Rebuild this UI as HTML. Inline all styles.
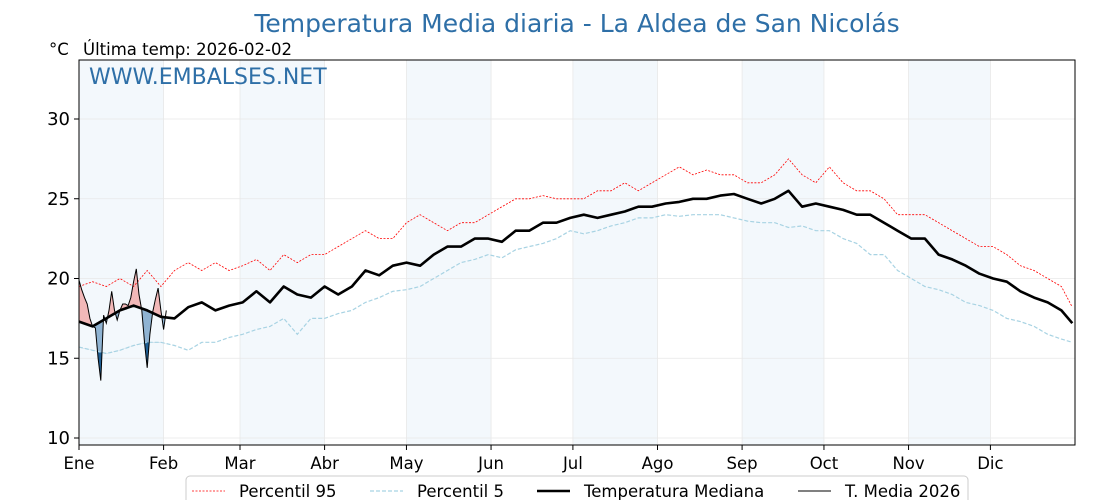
<!DOCTYPE html>
<html><head><meta charset="utf-8"><style>
body{margin:0;background:#fff;font-family:"DejaVu Sans","Liberation Sans",sans-serif}
svg{display:block}
</style></head><body>
<svg id="c" width="1120" height="500" xmlns="http://www.w3.org/2000/svg" font-family="DejaVu Sans, Liberation Sans, sans-serif">
<text x="577" y="32" text-anchor="middle" font-size="25" fill="#2e6fa7">Temperatura Media diaria - La Aldea de San Nicolás</text>
<text x="49" y="55" font-size="16.5" fill="#000">°C</text>
<text x="83" y="55" font-size="16.5" fill="#000">Última temp: 2026-02-02</text>
<g id="bands"></g>
<g id="grid"></g>
<g id="fills"></g>
<g id="lines"></g>
<text x="89" y="84" font-size="22" fill="#2e6fa7">WWW.EMBALSES.NET</text>
<rect x="79" y="60" width="996" height="385" fill="none" stroke="#000" stroke-width="1"/>
<g id="axes"></g>
<g>
<rect x="186" y="476" width="782" height="30" rx="4" fill="#fff" stroke="#ccc"/>
<line x1="192" y1="491" x2="225" y2="491" stroke="red" stroke-width="0.8" stroke-dasharray="2,1.5"/>
<text x="239" y="497" font-size="16.5">Percentil 95</text>
<line x1="370" y1="491" x2="403" y2="491" stroke="#a8d3e3" stroke-width="1.2" stroke-dasharray="4,2"/>
<text x="417" y="497" font-size="16.5">Percentil 5</text>
<line x1="537" y1="491" x2="570" y2="491" stroke="#000" stroke-width="2.6"/>
<text x="584" y="497" font-size="16.5">Temperatura Mediana</text>
<line x1="798" y1="491" x2="831" y2="491" stroke="#000" stroke-width="1"/>
<text x="845" y="497" font-size="16.5">T. Media 2026</text>
</g>
</svg>
<script>
const sampleDays=[0,5,10,15,20,25,30,35,40,45,50,55,60,65,70,75,80,85,90,95,100,105,110,115,120,125,130,135,140,145,150,155,160,165,170,175,180,185,190,195,200,205,210,215,220,225,230,235,240,245,250,255,260,265,270,275,280,285,290,295,300,305,310,315,320,325,330,335,340,345,350,355,360,364];
const median=[17.3,17.0,17.5,18.0,18.3,18.0,17.6,17.5,18.2,18.5,18.0,18.3,18.5,19.2,18.5,19.5,19.0,18.8,19.5,19.0,19.5,20.5,20.2,20.8,21.0,20.8,21.5,22.0,22.0,22.5,22.5,22.3,23.0,23.0,23.5,23.5,23.8,24.0,23.8,24.0,24.2,24.5,24.5,24.7,24.8,25.0,25.0,25.2,25.3,25.0,24.7,25.0,25.5,24.5,24.7,24.5,24.3,24.0,24.0,23.5,23.0,22.5,22.5,21.5,21.2,20.8,20.3,20.0,19.8,19.2,18.8,18.5,18.0,17.2];
const p95=[19.5,19.8,19.5,20.0,19.5,20.5,19.5,20.5,21.0,20.5,21.0,20.5,20.8,21.2,20.5,21.5,21.0,21.5,21.5,22.0,22.5,23.0,22.5,22.5,23.5,24.0,23.5,23.0,23.5,23.5,24.0,24.5,25.0,25.0,25.2,25.0,25.0,25.0,25.5,25.5,26.0,25.5,26.0,26.5,27.0,26.5,26.8,26.5,26.5,26.0,26.0,26.5,27.5,26.5,26.0,27.0,26.0,25.5,25.5,25.0,24.0,24.0,24.0,23.5,23.0,22.5,22.0,22.0,21.5,20.8,20.5,20.0,19.5,18.2];
const p5=[15.7,15.5,15.3,15.5,15.8,16.0,16.0,15.8,15.5,16.0,16.0,16.3,16.5,16.8,17.0,17.5,16.5,17.5,17.5,17.8,18.0,18.5,18.8,19.2,19.3,19.5,20.0,20.5,21.0,21.2,21.5,21.3,21.8,22.0,22.2,22.5,23.0,22.8,23.0,23.3,23.5,23.8,23.8,24.0,23.9,24.0,24.0,24.0,23.8,23.6,23.5,23.5,23.2,23.3,23.0,23.0,22.5,22.2,21.5,21.5,20.5,20.0,19.5,19.3,19.0,18.5,18.3,18.0,17.5,17.3,17.0,16.5,16.2,16.0];
const t2026=[19.9,19.3,18.8,18.4,17.5,17.0,16.9,15.0,13.6,17.7,17.2,18.0,19.2,18.0,17.4,18.0,18.4,18.4,18.3,18.8,19.8,20.6,19.0,18.0,16.0,14.4,16.5,17.9,18.7,19.4,18.0,16.8,18.0];
const monthLabels=["Ene","Feb","Mar","Abr","May","Jun","Jul","Ago","Sep","Oct","Nov","Dic"];
const monthStarts=[0,31,59,90,120,151,181,212,243,273,304,334];
const yTicks=[10,15,20,25,30];

const NS="http://www.w3.org/2000/svg";
const X0=79,PXD=996/365;
const x=d=>X0+d*PXD;
const y=v=>438-(v-10)*15.95;
function el(tag,attrs,parent){const e=document.createElementNS(NS,tag);for(const k in attrs)e.setAttribute(k,attrs[k]);document.getElementById(parent).appendChild(e);return e;}
function interp(arr,d){for(let i=0;i<sampleDays.length-1;i++){if(d<=sampleDays[i+1]){const f=(d-sampleDays[i])/(sampleDays[i+1]-sampleDays[i]);return arr[i]+f*(arr[i+1]-arr[i]);}}return arr[arr.length-1];}
for(let i=0;i<12;i+=2){const s=monthStarts[i],e=i+1<12?monthStarts[i+1]:365;
const r=el('rect',{x:x(s),y:60,width:x(e)-x(s),height:385,fill:'#f3f8fc'},'bands');

}
yTicks.forEach(v=>{const l=el('line',{x1:79,x2:1075,y1:y(v),y2:y(v),stroke:'#e8e8e8','stroke-width':0.8},'grid');


const tk=el('line',{x1:74,x2:79,y1:y(v),y2:y(v),stroke:'#000'},'axes');


const t=el('text',{x:70,y:y(v)+6,'text-anchor':'end','font-size':18},'axes');t.textContent=v;

});
monthStarts.forEach((s,i)=>{const g=el('line',{x1:x(s),x2:x(s),y1:60,y2:445,stroke:'#e8e8e8','stroke-width':0.8},'grid');


const tk=el('line',{x1:x(s),x2:x(s),y1:445,y2:450,stroke:'#000'},'axes');


const t=el('text',{x:x(s),y:469,'text-anchor':'middle','font-size':16.5},'axes');t.textContent=monthLabels[i];

});
const pts=arr=>sampleDays.map((d,i)=>x(d).toFixed(1)+','+y(arr[i]).toFixed(1)).join(' ');
const n=t2026.length;
const tp=t2026.map((v,d)=>[x(d),y(v)]);
const mp=[],lp=[];for(let d=0;d<n;d++){mp.push([x(d),y(interp(median,d))]);lp.push([x(d),y(interp(p5,d))]);}
const s=a=>a.map(p=>p[0].toFixed(1)+','+p[1].toFixed(1)).join(' ');
const defs=el('defs',{},'fills');
const cA=document.createElementNS(NS,'clipPath');cA.setAttribute('id','above');defs.appendChild(cA);
const pa=document.createElementNS(NS,'polygon');pa.setAttribute('points',s(mp)+` ${x(n-1)},0 ${x(0)},0`);cA.appendChild(pa);
const cB=document.createElementNS(NS,'clipPath');cB.setAttribute('id','below');defs.appendChild(cB);
const pb=document.createElementNS(NS,'polygon');pb.setAttribute('points',s(mp)+` ${x(n-1)},500 ${x(0)},500`);cB.appendChild(pb);
const cC=document.createElementNS(NS,'clipPath');cC.setAttribute('id','belowp5');defs.appendChild(cC);
const pc=document.createElementNS(NS,'polygon');pc.setAttribute('points',s(lp)+` ${x(n-1)},500 ${x(0)},500`);cC.appendChild(pc);
const area=s(tp)+' '+s(mp.slice().reverse());
const fr=el('polygon',{points:area,fill:'#f2b8b8','clip-path':'url(#above)'},'fills');


const fb=el('polygon',{points:area,fill:'#8fb3d2','clip-path':'url(#below)'},'fills');


const fd=el('polygon',{points:s(tp)+' '+s(lp.slice().reverse()),fill:'#1f5f94','clip-path':'url(#belowp5)'},'fills');


const l95=el('polyline',{points:pts(p95),fill:'none',stroke:'red','stroke-width':0.8,'stroke-dasharray':'2,1.5'},'lines');


const l5=el('polyline',{points:pts(p5),fill:'none',stroke:'#a8d3e3','stroke-width':1.2,'stroke-dasharray':'4,2'},'lines');


const lm=el('polyline',{points:pts(median),fill:'none',stroke:'#000','stroke-width':2.6,'stroke-linejoin':'round'},'lines');


const lt=el('polyline',{points:s(tp),fill:'none',stroke:'#000','stroke-width':1},'lines');


</script>
</body></html>
